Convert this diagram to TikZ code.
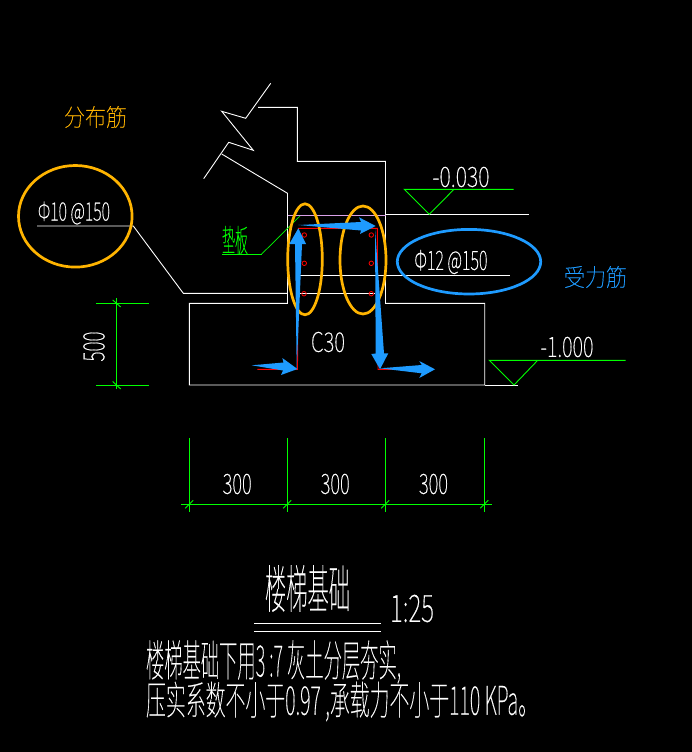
\documentclass[tikz,border=0pt]{standalone}
\usepackage{fontspec}
\usepackage{graphicx}
\newfontfamily\cad[UprightFont=* Thin,FakeBold=0.6]{Noto Sans CJK SC}
\newcommand{\fit}[3]{\resizebox{#1pt}{#2pt}{\cad #3}}
\definecolor{cadgreen}{HTML}{00FF00}
\definecolor{cadred}{HTML}{FF0000}
\definecolor{cadpurple}{HTML}{D9A0E8}
\definecolor{markorange}{HTML}{FFB400}
\definecolor{markblue}{HTML}{1E9BFF}
\tikzset{
  wall/.style={draw=white,line width=0.9pt},
  dimline/.style={draw=cadgreen,line width=0.9pt},
  rebar/.style={draw=cadred,line width=0.9pt},
  ring/.style={draw,line width=2.7pt},
  blob/.style={fill=markblue,draw=none},
  txt/.style={inner sep=0pt,outer sep=0pt,text=white},
  stirrup/.style={draw=cadred,line width=0.8pt,circle,inner sep=0pt,minimum size=4.5pt}
}
\begin{document}
\begin{tikzpicture}[x=1pt,y=-1pt]
\useasboundingbox[fill=black] (0,0) rectangle (692,752);
% concrete outline
\draw[wall] (270.7,83.3) -- (245.7,118.3) -- (221.7,111.3) -- (253.3,150.3) -- (228.7,142.3) -- (203.7,178.7);
\draw[wall] (258,107.3) -- (297.3,107.3) -- (297.3,161.3) -- (385.5,161.3) -- (385.5,303.3) -- (484.7,303.3) -- (484.7,385) -- (189.3,385) -- (189.3,303.3) -- (287.5,303.3) -- (287.5,193.3) -- (221.7,154);
\draw[wall] (37,226) -- (133.3,226) -- (183.3,293.3) -- (287.5,293.3);
\draw[wall] (296,293.3) -- (375,293.3);
\draw[wall] (296,275.2) -- (509.7,275.2);
\draw[wall] (385.5,214.5) -- (528.7,214.5);
\draw[wall] (484.7,385) -- (517.7,385);
\draw[draw=cadpurple,line width=0.9pt] (287.5,215) -- (385.5,215);
% reinforcement
\draw[rebar] (257.3,369.3) -- (297.5,369.3) -- (298.3,228.3) -- (377.3,228.3) -- (378,369.3) -- (392,369.3);
\foreach \n/\px/\py in {a/304.3/235,b/304.3/263.3,c/304/293.7,d/371.3/235,e/371.3/263.3,f/371.3/293.7}
  \node[stirrup] (dot\n) at (\px,\py) {};
% cushion label
\draw[dimline] (222,254) -- (261.7,254);
\draw[draw=cadgreen,line width=0.7pt] (261.7,254) -- (300,216);
\node[txt,text=cadgreen] (pad) at (235,240) {\fit{26}{26}{垫板}};
% levels
\draw[dimline] (513.7,189.3) -- (404.3,189.3) -- (429.3,214.3) -- (454,189.3);
\draw[dimline] (625.7,360.3) -- (489.3,360.3) -- (514,385) -- (537.7,360.3);
% vertical dimension
\draw[dimline] (96,303.3) -- (149,303.3);
\draw[dimline] (96,385.3) -- (149,385.3);
\draw[dimline] (116.7,298) -- (116.7,389);
\draw[dimline] (112.7,300) -- (120.7,307);
\draw[dimline] (112.7,381.5) -- (120.7,389);
% horizontal dimension
\draw[dimline] (181,504.3) -- (491.7,504.3);
\foreach \x in {189.3,287.3,385.3,484.3}{
  \draw[dimline] (\x,438.3) -- (\x,511.7);
  \draw[dimline] (\x-4,508.3) -- (\x+4,500.3);
}
% title rules
\draw[wall] (254.3,623) -- (380.7,623);
\draw[wall] (254.3,631) -- (380.7,631);
% highlighted ellipses
\draw[ring,markorange] (305,259.3) ellipse [x radius=17.3,y radius=55.5];
\draw[ring,markorange] (363,260) ellipse [x radius=23,y radius=54];
\draw[ring,markorange] (75.3,216.3) ellipse [x radius=56.8,y radius=50.8];
\draw[ring,markblue] (469,261.7) ellipse [x radius=71.7,y radius=32.3];
% blue arrows
\fill[blob] (251.7,365.3) -- (283.5,362.5) -- (282.3,358) -- (297.5,369) -- (281,375) -- (283,370.5) -- cycle;
\fill[blob] (296.7,369.3) -- (295,244) -- (289.3,244) -- (298.3,228.3) -- (306,244) -- (302,244) -- cycle;
\fill[blob] (298.3,225) -- (361,222) -- (359,217.3) -- (375.7,226) -- (360,234) -- (361,230.5) -- cycle;
\fill[blob] (375,228.3) -- (375.7,353.5) -- (371.3,354) -- (380,369.3) -- (388.3,353.3) -- (384,353.5) -- cycle;
\fill[blob] (380,368.3) -- (421.7,365) -- (419.3,361) -- (435,369.3) -- (419.3,378) -- (421.7,373.3) -- cycle;
% labels
\node[txt,text=markorange] (fenbu) at (95.5,117) {\fit{63}{20}{分布筋}};
\node[txt,text=markblue] (shouli) at (595.5,277) {\fit{63}{20}{受力筋}};
\node[txt] (phi10) at (74,213) {\fit{72}{19}{Φ10 @150}};
\node[txt] (phi12) at (451,262) {\fit{73}{20}{Φ12 @150}};
\node[txt] (lev1) at (461,177) {\fit{57}{20}{-0.030}};
\node[txt] (lev2) at (567,347) {\fit{53}{20}{-1.000}};
\node[txt] (c30) at (328,342) {\fit{34}{20}{C30}};
\node[txt,rotate=90] (h500) at (94,346.5) {\fit{30}{21}{500}};
\node[txt] (w1) at (237.2,484) {\fit{29}{20}{300}};
\node[txt] (w2) at (335.2,484) {\fit{29}{20}{300}};
\node[txt] (w3) at (433.5,484) {\fit{29}{20}{300}};
\node[txt] (title) at (307.5,588.5) {\fit{85}{43}{楼梯基础}};
\node[txt] (scale) at (412,608.5) {\fit{44}{27}{1:25}};
\node[txt,anchor=west] (note1) at (146,662) {\fit{255}{36}{楼梯基础下用3 :7 灰土分层夯实,}};
\node[txt,anchor=west] (note2) at (146,701.5) {\fit{392}{33}{压实系数不小于0.97 ,承载力不小于110 KPa。}};
\end{tikzpicture}
\end{document}
